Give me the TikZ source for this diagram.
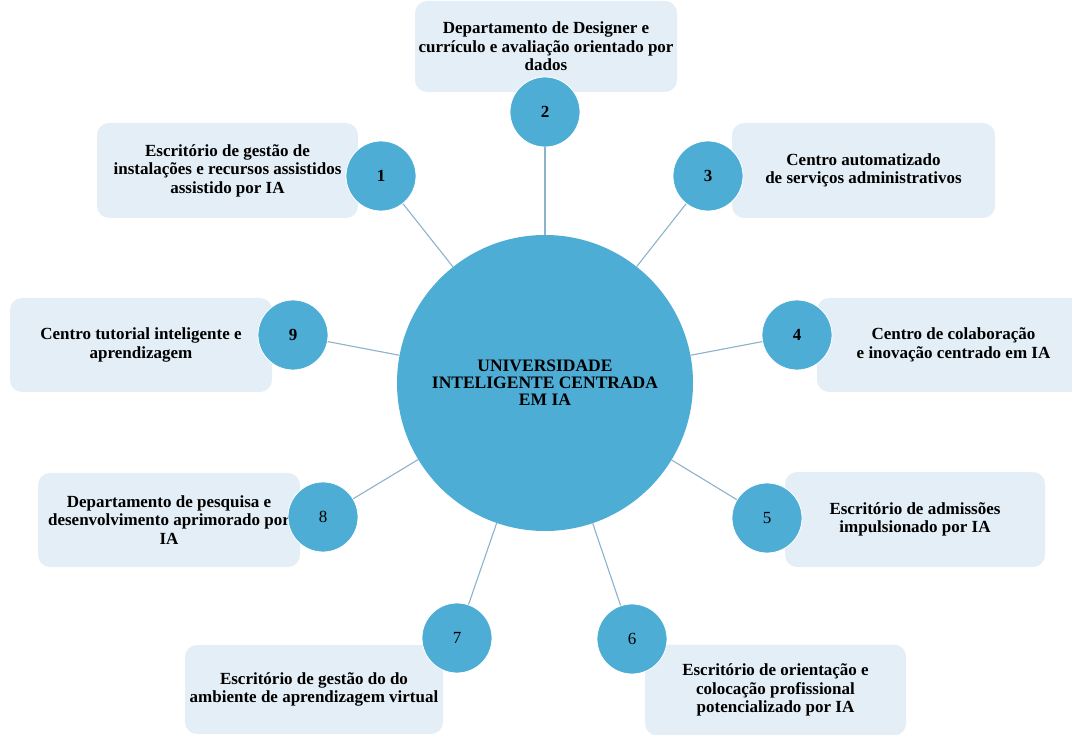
\documentclass[tikz,border=0pt]{standalone}
\usepackage{fontspec}
\setmainfont{Liberation Serif}
\usetikzlibrary{calc}
\definecolor{hubblue}{RGB}{78,173,213}
\definecolor{boxgrey}{RGB}{227,238,246}
\definecolor{linkblue}{RGB}{140,178,204}
\tikzset{
  unit/.style={fill=boxgrey, rounded corners=12pt, inner sep=0pt, align=center,
    font=\bfseries\fontsize{17}{18.5}\selectfont},
  num/.style={circle, fill=hubblue, draw=white, line width=0.8pt, minimum size=70pt,
    inner sep=0pt, font=\fontsize{17}{18}\selectfont},
  bnum/.style={num, font=\bfseries\fontsize{17}{18}\selectfont},
  hub/.style={circle, fill=hubblue, minimum size=296pt, inner sep=0pt, align=center,
    font=\bfseries\fontsize{17.5}{17}\selectfont},
  link/.style={draw=linkblue, line width=1.1pt}
}

\begin{document}
\begin{tikzpicture}[x=1pt,y=-1pt]
    \useasboundingbox (0,0) rectangle (1072,735);

    \node[unit, minimum width=261pt, minimum height=95pt] (b1) at (227.5,170.5)
      {Escritório de gestão de\\instalações e recursos assistidos\\assistido por IA};
    \node[unit, minimum width=262pt, minimum height=91pt] (b2) at (546,46.5)
      {Departamento de Designer e\\currículo e avaliação orientado por\\dados};
    \node[unit, minimum width=263pt, minimum height=95pt] (b3) at (863.5,170.5)
      {Centro automatizado\\de serviços administrativos};
    \node[unit, minimum width=273pt, minimum height=94pt] (b4) at (953.5,345)
      {Centro de colaboração\\e inovação centrado em IA};
    \node[unit, minimum width=260pt, minimum height=95pt] (b5) at (915,519.5)
      {Escritório de admissões\\impulsionado por IA};
    \node[unit, minimum width=261pt, minimum height=91pt] (b6) at (775.5,690)
      {Escritório de orientação e\\colocação profissional\\potencializado por IA};
    \node[unit, minimum width=258pt, minimum height=89pt] (b7) at (314,689.5)
      {Escritório de gestão do do\\ambiente de aprendizagem virtual};
    \node[unit, minimum width=262pt, minimum height=94pt] (b8) at (169,520)
      {Departamento de pesquisa e\\desenvolvimento aprimorado por\\IA};
    \node[unit, minimum width=262pt, minimum height=94pt] (b9) at (141,345)
      {Centro tutorial inteligente e\\aprendizagem};

    \node[hub] (hub) at (545,383) {UNIVERSIDADE\\INTELIGENTE CENTRADA\\EM IA};

    \node[bnum] (c1) at (381,176) {1};
    \node[bnum] (c2) at (545,112) {2};
    \node[bnum] (c3) at (708,176) {3};
    \node[bnum] (c4) at (797,335) {4};
    \node[num] (c5) at (767,518) {5};
    \node[num] (c6) at (632,639) {6};
    \node[num] (c7) at (457,638) {7};
    \node[num] (c8) at (323,517) {8};
    \node[bnum] (c9) at (293,335) {9};

    \draw[link] (hub) -- (c1);
    \draw[link] (hub) -- (c2);
    \draw[link] (hub) -- (c3);
    \draw[link] (hub) -- (c4);
    \draw[link] (hub) -- (c5);
    \draw[link] (hub) -- (c6);
    \draw[link] (hub) -- (c7);
    \draw[link] (hub) -- (c8);
    \draw[link] (hub) -- (c9);
\end{tikzpicture}
\end{document}
